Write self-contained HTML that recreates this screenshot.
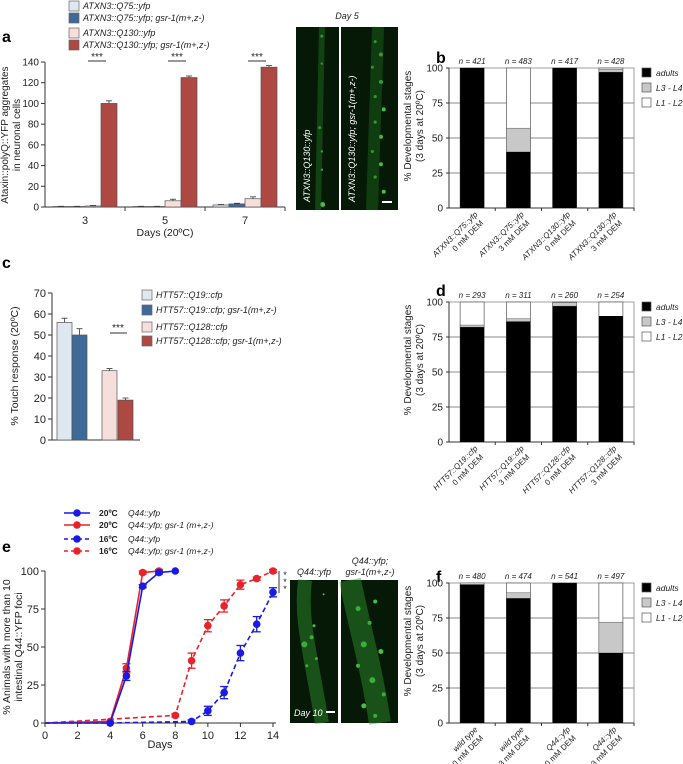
<!DOCTYPE html>
<html><head><meta charset="utf-8">
<style>
body{margin:0;background:#fff;}
svg{display:block;font-family:"Liberation Sans",sans-serif;}
.it{font-style:italic;}
</style></head>
<body>
<svg id="fig" width="683" height="764" viewBox="0 0 683 764" xmlns="http://www.w3.org/2000/svg"></svg>
<script>
// ---- Panel a data ----
const aCats = ["3","5","7"];
const aQ75 = [0.5,0.5,2];
const aQ75g = [0.5,0.5,3];
const aQ130 = [1,6,8];
const aQ130g = [100,125,135];
const aErr = [[0.2,0.2,0.4],[0.2,0.2,0.6],[0.5,1.5,1.8],[2.5,1.5,1.5]];
const aTicks = [0,20,40,60,80,100,120,140];
// ---- Panel c data ----
const cVals = [56,50,33,19];
const cErr = [2,3,1,1];
const cTicks = [0,10,20,30,40,50,60,70];
// ---- Panels b,d,f data ----
const bAdults = [100,40,100,97];
const bL34 = [0,17,0,2];
const bN = ["n = 421","n = 483","n = 417","n = 428"];
const bLab = ["ATXN3::Q75::yfp","ATXN3::Q75::yfp","ATXN3::Q130::yfp","ATXN3::Q130::yfp"];
const dAdults = [82,86,97,90];
const dL34 = [1.5,2,2.5,0];
const dN = ["n = 293","n = 311","n = 260","n = 254"];
const dLab = ["HTT57::Q19::cfp","HTT57::Q19::cfp","HTT57::Q128::cfp","HTT57::Q128::cfp"];
const fAdults = [99,89,100,50];
const fL34 = [0,4,0,22];
const fN = ["n = 480","n = 474","n = 541","n = 497"];
const fLab = ["wild type","wild type","Q44::yfp","Q44::yfp"];
const demLab = ["0 mM DEM","3 mM DEM","0 mM DEM","3 mM DEM"];
const stackTicks = [0,25,50,75,100];
// ---- Panel e data ----
const eDays20b = [0,4,5,6,7,8];
const eVals20b = [0,0,31,90,99,100];
const eErr20b = [0,0,3,1,1,0];
const eDays20r = [0,4,5,6,7];
const eVals20r = [0,1,36,99,100];
const eErr20r = [0,0,3,1,1];
const eDays16b = [0,4,9,10,11,12,13,14];
const eVals16b = [0,0,1,8,20,46,65,86];
const eErr16b = [0,0,1,3,4,5,5,3];
const eDays16r = [0,8,9,10,11,12,13,14];
const eVals16r = [0,5,41,64,77,91,95,100];
const eErr16r = [0,1,5,4,4,3,1,1];
const eXTicks = [0,2,4,6,8,10,12,14];
const eYTicks = [0,25,50,75,100];

const NS="http://www.w3.org/2000/svg";
const svg=document.getElementById('fig');
function mk(tag,attrs,parent,text){const e=document.createElementNS(NS,tag);for(const k in attrs)e.setAttribute(k,attrs[k]);if(text!==undefined)e.textContent=text;(parent||svg).appendChild(e);return e;}
function txt(x,y,s,size,extra,parent){const t=mk('text',Object.assign({x:x,y:y,'font-size':size||10,fill:'#222'},extra||{}),parent,s);return t;}

const COL=["#dfe7f1","#3e6a98","#f6dedb","#ad4843"];

[["a",2,42],["b",436,63],["c",2,268],["d",436,296],["e",2,552],["f",436,582]].forEach(p=>{
 const t=txt(p[1],p[2],p[0],16,{'font-weight':'bold',fill:'#000'});
 
 
});

function legendBox(x,y,col,label,name){
 const g=mk('g',{});
 
 
 mk('rect',{x:x,y:y-8,width:10,height:10,fill:col,stroke:'#666','stroke-width':0.7},g);
 txt(x+14,y,label,9,{class:'it'},g);
}
// ---- Panel a ----
(function(){
 const g=mk('g',{});
 
 
 const x0=45,x1=285,y0=207,y1=62;
 const ys=v=>y0-(v/140)*(y0-y1);
 const band=(x1-x0)/aCats.length;
 mk('line',{x1:x0,y1:y1,x2:x0,y2:y0,stroke:'#333'},g);
 mk('line',{x1:x0,y1:y0,x2:x1,y2:y0,stroke:'#333'},g);
 aTicks.forEach(t=>{mk('line',{x1:x0-4,y1:ys(t),x2:x0,y2:ys(t),stroke:'#333'},g);txt(x0-6,ys(t)+3.5,String(t),10,{'text-anchor':'end'},g);});
 const series=[aQ75,aQ75g,aQ130,aQ130g];
 aCats.forEach((c,i)=>{
  const cx=x0+band*(i+0.5);
  mk('line',{x1:x0+band*(i+1),y1:y0,x2:x0+band*(i+1),y2:y0+4,stroke:'#333'},g);
  txt(cx,y0+17,c,11,{'text-anchor':'middle'},g);
  series.forEach((s,j)=>{
   const bx=cx-32+j*16, h=y0-ys(s[i]);
   const r=mk('rect',{x:bx,y:ys(s[i]),width:16,height:h,fill:COL[j],stroke:'#555','stroke-width':0.7},g);
   
   
   const ey=ys(s[i]+aErr[j][i]);
   mk('line',{x1:bx+8,y1:ey,x2:bx+8,y2:ys(s[i]),stroke:'#333','stroke-width':0.8},g);
   mk('line',{x1:bx+5,y1:ey,x2:bx+11,y2:ey,stroke:'#333','stroke-width':0.8},g);
  });
  txt(cx+12,y1-2,'***',10,{'text-anchor':'middle'},g);
  mk('line',{x1:cx+3,y1:y1-1,x2:cx+21,y2:y1-1,stroke:'#333'},g);
 });
 const t1=txt(0,0,'Ataxin::polyQ::YFP aggregates',10,{'text-anchor':'middle',transform:'translate(8,135) rotate(-90)'},g);
 
 txt(0,0,'in neuronal cells',10,{'text-anchor':'middle',transform:'translate(20,135) rotate(-90)'},g);
 const t2=txt(165,236,'Days (20ºC)',10.5,{'text-anchor':'middle'},g);
 
 legendBox(69,9,COL[0],'ATXN3::Q75::yfp','legend-entry-a1');
 legendBox(69,21,COL[1],'ATXN3::Q75::yfp; gsr-1(m+,z-)','legend-entry-a2');
 legendBox(69,36,COL[2],'ATXN3::Q130::yfp','legend-entry-a3');
 legendBox(69,48,COL[3],'ATXN3::Q130::yfp; gsr-1(m+,z-)','legend-entry-a4');
})();

function photo(x,y,w,h,label,name,spots,vertLabel){
 const g=mk('g',{});
 
 
 mk('rect',{x:x,y:y,width:w,height:h,fill:'#061806'},g);
 spots.forEach(s=>mk('circle',{cx:x+s[0]*w,cy:y+s[1]*h,r:s[2],fill:s[3]||'#4fd04f',opacity:s[4]||0.9},g));
 if(vertLabel) txt(0,0,label,9,{class:'it',fill:'#fff',transform:'translate('+(x+14)+','+(y+h-8)+') rotate(-90)'},g);
}
photo(296,27,43,183,'ATXN3::Q130::yfp','photo-q130',[[0.6,0.05,1.5],[0.6,0.2,1.2],[0.55,0.55,1.5],[0.6,0.68,1.2],[0.6,0.78,1.2],[0.62,0.97,2.5]],true);
mk('path',{d:'M322 27 L318 210',stroke:'#1d6a1d','stroke-width':6,opacity:0.5,fill:'none'});
photo(341,27,57,183,'ATXN3::Q130::yfp; gsr-1(m+,z-)','photo-q130-gsr1',[[0.6,0.08,1.5],[0.7,0.15,2],[0.55,0.22,1.5],[0.7,0.3,2],[0.6,0.38,1.6],[0.75,0.45,2],[0.6,0.52,1.6],[0.7,0.6,2],[0.55,0.68,1.5],[0.7,0.75,2],[0.6,0.82,1.6],[0.75,0.9,2]],true);
mk('path',{d:'M378 27 L372 210',stroke:'#1d6a1d','stroke-width':12,opacity:0.45,fill:'none'});
mk('line',{x1:382,y1:202,x2:392,y2:202,stroke:'#fff','stroke-width':2});
txt(347,19,'Day 5',9,{'text-anchor':'middle',class:'it'});

photo(290,580,48,143,'','photo-q44',[[0.3,0.45,3],[0.45,0.4,2],[0.5,0.32,1.5],[0.55,0.55,1.5],[0.35,0.6,1.5],[0.7,0.1,1]],false);
mk('path',{d:'M305 580 C300 620, 310 650, 322 723',stroke:'#2f9a2f','stroke-width':14,opacity:0.45,fill:'none'});
txt(294,716,'Day 10',9,{class:'it',fill:'#fff'});
mk('line',{x1:326,y1:712,x2:335,y2:712,stroke:'#fff','stroke-width':2});
photo(341,580,57,143,'','photo-q44-gsr1',[[0.3,0.2,2.5],[0.5,0.3,2],[0.6,0.15,2],[0.4,0.45,3],[0.7,0.5,2.5],[0.3,0.6,2],[0.55,0.7,3],[0.75,0.8,2],[0.4,0.88,2.5],[0.6,0.95,2]],false);
mk('path',{d:'M350 580 C360 630, 370 660, 380 723',stroke:'#2f9a2f','stroke-width':22,opacity:0.45,fill:'none'});
txt(314,575,'Q44::yfp',9,{'text-anchor':'middle',class:'it'});
txt(370,564,'Q44::yfp;',9,{'text-anchor':'middle',class:'it'});
txt(370,575,'gsr-1(m+,z-)',9,{'text-anchor':'middle',class:'it'});

function stacked(name,top,bottom,adults,l34,ns,lab1,lab2){
 const g=mk('g',{});
 
 
 const x0=449,x1=634;
 const ys=v=>bottom-(v/100)*(bottom-top);
 mk('rect',{x:x0,y:top,width:x1-x0,height:bottom-top,fill:'#fff',stroke:'#888','stroke-width':0.8},g);
 stackTicks.forEach(t=>{
  if(t>0&&t<100) mk('line',{x1:x0,y1:ys(t),x2:x1,y2:ys(t),stroke:'#888','stroke-width':1},g);
  mk('line',{x1:x0-3,y1:ys(t),x2:x0,y2:ys(t),stroke:'#333'},g);
  txt(x0-6,ys(t)+3.5,String(t),10,{'text-anchor':'end'},g);
 });
 mk('line',{x1:x0,y1:top,x2:x0,y2:bottom,stroke:'#333'},g);
 mk('line',{x1:x0,y1:bottom,x2:x1,y2:bottom,stroke:'#333'},g);
 const band=(x1-x0)/adults.length;
 adults.forEach((a,i)=>{
  const cx=x0+band*(i+0.5), bx=cx-12;
  const r1=mk('rect',{x:bx,y:ys(100),width:24,height:bottom-top,fill:'#fff',stroke:'#555','stroke-width':0.7},g);
  
  const r2=mk('rect',{x:bx,y:ys(a+l34[i]),width:24,height:ys(a)-ys(a+l34[i]),fill:'#c8c8c8',stroke:'#555','stroke-width':0.5},g);
  
  const r3=mk('rect',{x:bx,y:ys(a),width:24,height:bottom-ys(a),fill:'#000'},g);
  
  mk('line',{x1:x0+band*(i+1),y1:bottom,x2:x0+band*(i+1),y2:bottom+3,stroke:'#333'},g);
  txt(cx,top-4,ns[i],8,{'text-anchor':'middle',class:'it'},g);
  const tg=mk('g',{transform:'translate('+(cx+6)+','+(bottom+7)+') rotate(-45)'},g);
  txt(0,0,lab1[i],8,{'text-anchor':'end',class:'it'},tg);
  txt(-2,10,lab2[i],8,{'text-anchor':'end'},tg);
 });
 const my=(top+bottom)/2-12;
 txt(0,0,'% Developmental stages',10,{'text-anchor':'middle',transform:'translate(411,'+my+') rotate(-90)'},g);
 txt(0,0,'(3 days at 20ºC)',10,{'text-anchor':'middle',transform:'translate(423,'+my+') rotate(-90)'},g);
 [['#000','adults'],['#c8c8c8','L3 - L4'],['#fff','L1 - L2']].forEach((l,k)=>{
  const lg=mk('g',{},g);
  
  
  mk('rect',{x:642,y:top+k*15,width:9,height:9,fill:l[0],stroke:'#555','stroke-width':0.7},lg);
  txt(656,top+k*15+8,l[1],8.5,{class:'it'},lg);
 });
}
stacked('panel-b-chart',68,208,bAdults,bL34,bN,bLab,demLab);
stacked('panel-d-chart',302,442,dAdults,dL34,dN,dLab,demLab);
stacked('panel-f-chart',583,723,fAdults,fL34,fN,fLab,demLab);

(function(){
 const g=mk('g',{});
 
 
 const x0=52,y0=440,y1=293;
 const ys=v=>y0-(v/70)*(y0-y1);
 mk('line',{x1:x0,y1:y1,x2:x0,y2:y0,stroke:'#333'},g);
 mk('line',{x1:x0,y1:y0,x2:140,y2:y0,stroke:'#333'},g);
 cTicks.forEach(t=>{mk('line',{x1:x0-4,y1:ys(t),x2:x0,y2:ys(t),stroke:'#333'},g);txt(x0-6,ys(t)+4,String(t),11,{'text-anchor':'end'},g);});
 const xs=[57,72,102,118];
 cVals.forEach((v,i)=>{
  const r=mk('rect',{x:xs[i],y:ys(v),width:15,height:y0-ys(v),fill:COL[i],stroke:'#555','stroke-width':0.7},g);
  
  const ey=ys(v+cErr[i]);
  mk('line',{x1:xs[i]+7.5,y1:ey,x2:xs[i]+7.5,y2:ys(v),stroke:'#333','stroke-width':0.8},g);
  mk('line',{x1:xs[i]+4.5,y1:ey,x2:xs[i]+10.5,y2:ey,stroke:'#333','stroke-width':0.8},g);
 });
 txt(118,331,'***',10,{'text-anchor':'middle'},g);
 mk('line',{x1:110,y1:333,x2:127,y2:333,stroke:'#333'},g);
 txt(0,0,'% Touch response (20ºC)',10.5,{'text-anchor':'middle',transform:'translate(18,366) rotate(-90)'},g);
 legendBox(142,298,COL[0],'HTT57::Q19::cfp','legend-entry-c1');
 legendBox(142,313,COL[1],'HTT57::Q19::cfp; gsr-1(m+,z-)','legend-entry-c2');
 legendBox(142,330,COL[2],'HTT57::Q128::cfp','legend-entry-c3');
 legendBox(142,344,COL[3],'HTT57::Q128::cfp; gsr-1(m+,z-)','legend-entry-c4');
})();

(function(){
 const g=mk('g',{});
 
 
 const x0=45,x1=273,y0=723,y1=571;
 const xs=d=>x0+(d/14)*(x1-x0);
 const ys=v=>y0-(v/100)*(y0-y1);
 mk('line',{x1:x0,y1:y1,x2:x0,y2:y0,stroke:'#333'},g);
 mk('line',{x1:x0,y1:y0,x2:x1+3,y2:y0,stroke:'#333'},g);
 eYTicks.forEach(t=>{mk('line',{x1:x0-4,y1:ys(t),x2:x0,y2:ys(t),stroke:'#333'},g);txt(x0-6,ys(t)+4,String(t),11,{'text-anchor':'end'},g);});
 eXTicks.forEach(t=>{mk('line',{x1:xs(t),y1:y0,x2:xs(t),y2:y0+4,stroke:'#333'},g);txt(xs(t),y0+16,String(t),11,{'text-anchor':'middle'},g);});
 txt(160,748,'Days',11,{'text-anchor':'middle'},g);
 txt(0,0,'% Animals  with more than 10',10.5,{'text-anchor':'middle',transform:'translate(10,647) rotate(-90)'},g);
 txt(0,0,'intestinal Q44::YFP foci',10.5,{'text-anchor':'middle',transform:'translate(22,647) rotate(-90)'},g);
 function series(days,vals,errs,col,dash,name){
  const sg=mk('g',{},g);
  
  
  const d=days.map((x,i)=>(i?'L':'M')+xs(x)+' '+ys(vals[i])).join(' ');
  mk('path',{d:d,stroke:col,'stroke-width':1.6,fill:'none','stroke-dasharray':dash?'5,3':'none'},sg);
  days.forEach((x,i)=>{
   if(x===0) return;
   if(errs[i]>0){
    mk('line',{x1:xs(x),y1:ys(vals[i]+errs[i]),x2:xs(x),y2:ys(vals[i]-errs[i]),stroke:col,'stroke-width':1.3},sg);
    [vals[i]+errs[i],vals[i]-errs[i]].forEach(v=>mk('line',{x1:xs(x)-4,y1:ys(v),x2:xs(x)+4,y2:ys(v),stroke:col,'stroke-width':1.3},sg));
   }
   mk('circle',{cx:xs(x),cy:ys(vals[i]),r:3.8,fill:col},sg);
  });
 }
 series(eDays16r,eVals16r,eErr16r,'#e8222a',true,'series-16c-gsr1');
 series(eDays16b,eVals16b,eErr16b,'#1a1ae6',true,'series-16c-q44');
 series(eDays20r,eVals20r,eErr20r,'#e8222a',false,'series-20c-gsr1');
 series(eDays20b,eVals20b,eErr20b,'#1a1ae6',false,'series-20c-q44');
 mk('line',{x1:279,y1:571,x2:279,y2:593,stroke:'#333'},g);
 ['*','*','*'].forEach((s,k)=>txt(285,578+k*7,s,9,{'text-anchor':'middle'},g));
 const leg=[['#1a1ae6',false,'Q44::yfp',513],['#e8222a',false,'Q44::yfp; gsr-1 (m+,z-)',525],['#1a1ae6',true,'Q44::yfp',539],['#e8222a',true,'Q44::yfp; gsr-1 (m+,z-)',551]];
 leg.forEach((l,k)=>{
  const lg=mk('g',{},g);
  
  
  mk('line',{x1:64,y1:l[3],x2:90,y2:l[3],stroke:l[0],'stroke-width':1.6,'stroke-dasharray':l[1]?'4,3':'none'},lg);
  mk('circle',{cx:77,cy:l[3],r:3.8,fill:l[0]},lg);
  txt(99,l[3]+3,k<2?'20ºC':'16ºC',8.5,{'font-weight':'bold'},lg);
  txt(128,l[3]+3,l[2],8.5,{class:'it'},lg);
 });
})();
</script>
</body></html>
